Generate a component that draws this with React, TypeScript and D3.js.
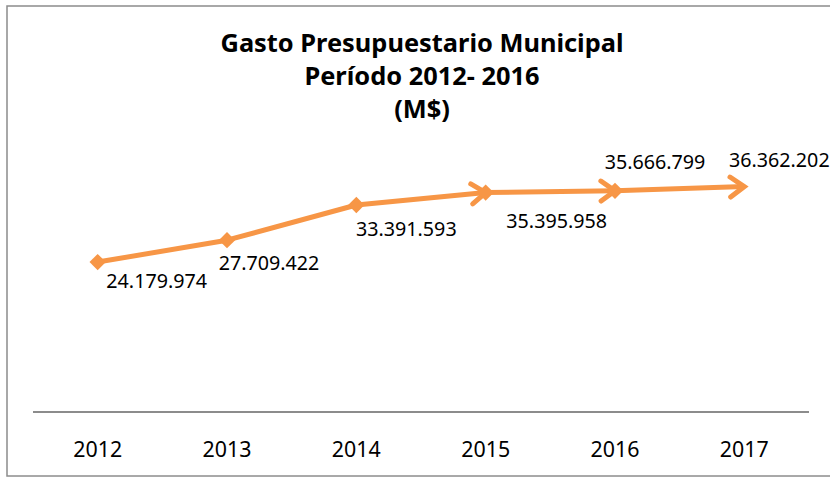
import React from "react";
import * as d3 from "d3";

const years = ["2012", "2013", "2014", "2015", "2016", "2017"];
const gasto = [24179974, 27709422, 33391593, 35395958, 35666799, 36362202];
const titleLines = ["Gasto Presupuestario Municipal", "Período 2012- 2016", "(M$)"];
// label placement relative to point (style only)
const labelDx = [59, 42, 50, 71, 40, 35];
const labelDy = [26, 30, 31, 35, -22, -20];
const hasMarker = [true, true, true, true, true, false];
const hasArrow = [false, false, false, true, true, true];

const W = 830;
const H = 478;
const ORANGE = "#F79646";

export default function App() {
  const x = d3.scaleBand<string>().domain(years).range([33, 809]);
  const y = d3.scaleLinear().domain([0, 40000000]).range([412, 164]);
  const fmt = d3.formatLocale({ decimal: ",", thousands: ".", grouping: [3], currency: ["$", ""] }).format(",d");
  const cx = (i: number) => (x(years[i]) as number) + x.bandwidth() / 2;
  const cy = (i: number) => y(gasto[i]);
  const line = d3.line<number>().x((i) => cx(i)).y((i) => cy(i));
  const diamond = d3.symbol().type(d3.symbolDiamond2).size(170)();

  return (
    <svg width={W} height={H} style={{ position: "absolute", left: 0, top: 0, background: "#fff" }}
      fontFamily="'Noto Sans', sans-serif">
      <defs>
        <marker id="arr" markerUnits="userSpaceOnUse" viewBox="-20 -15 25 30" refX={0} refY={0}
          markerWidth={25} markerHeight={30} orient="auto">
          <path d="M-14,-10 L0,0 L-14,10" fill="none" stroke={ORANGE} strokeWidth={5} strokeLinejoin="miter" strokeLinecap="round" />
        </marker>
      </defs>
      <rect x={7} y={6} width={830} height={470} fill="#fff" stroke="#8c8c8c" strokeWidth={1.5} />
      {titleLines.map((t, i) => (
        <text key={t} x={422} y={52 + i * 33} textAnchor="middle" fontWeight="bold" fontSize={25.4} fill="#000">{t}</text>
      ))}
      <line x1={33} x2={809} y1={y(0)} y2={y(0)} stroke="#8c8c8c" strokeWidth={2} />
      {years.map((yr, i) => (
        <text key={yr} x={cx(i)} y={457} textAnchor="middle" fontSize={21.4} fill="#000">{yr}</text>
      ))}
      {years.slice(1).map((_, k) => {
        const i = k + 1;
        return (
          <path key={"s" + i} d={line([i - 1, i]) || ""} fill="none" stroke={ORANGE} strokeWidth={5}
            markerEnd={hasArrow[i] ? "url(#arr)" : undefined} />
        );
      })}
      {years.map((yr, i) =>
        hasMarker[i] ? (
          <path key={"m" + yr} d={diamond || ""} transform={`translate(${cx(i)},${cy(i)})`} fill={ORANGE} />
        ) : null
      )}
      {years.map((yr, i) => (
        <text key={"l" + yr} x={cx(i) + labelDx[i]} y={cy(i) + labelDy[i]} textAnchor="middle" fontSize={19.7} fill="#000">
          {fmt(gasto[i])}
        </text>
      ))}
    </svg>
  );
}
